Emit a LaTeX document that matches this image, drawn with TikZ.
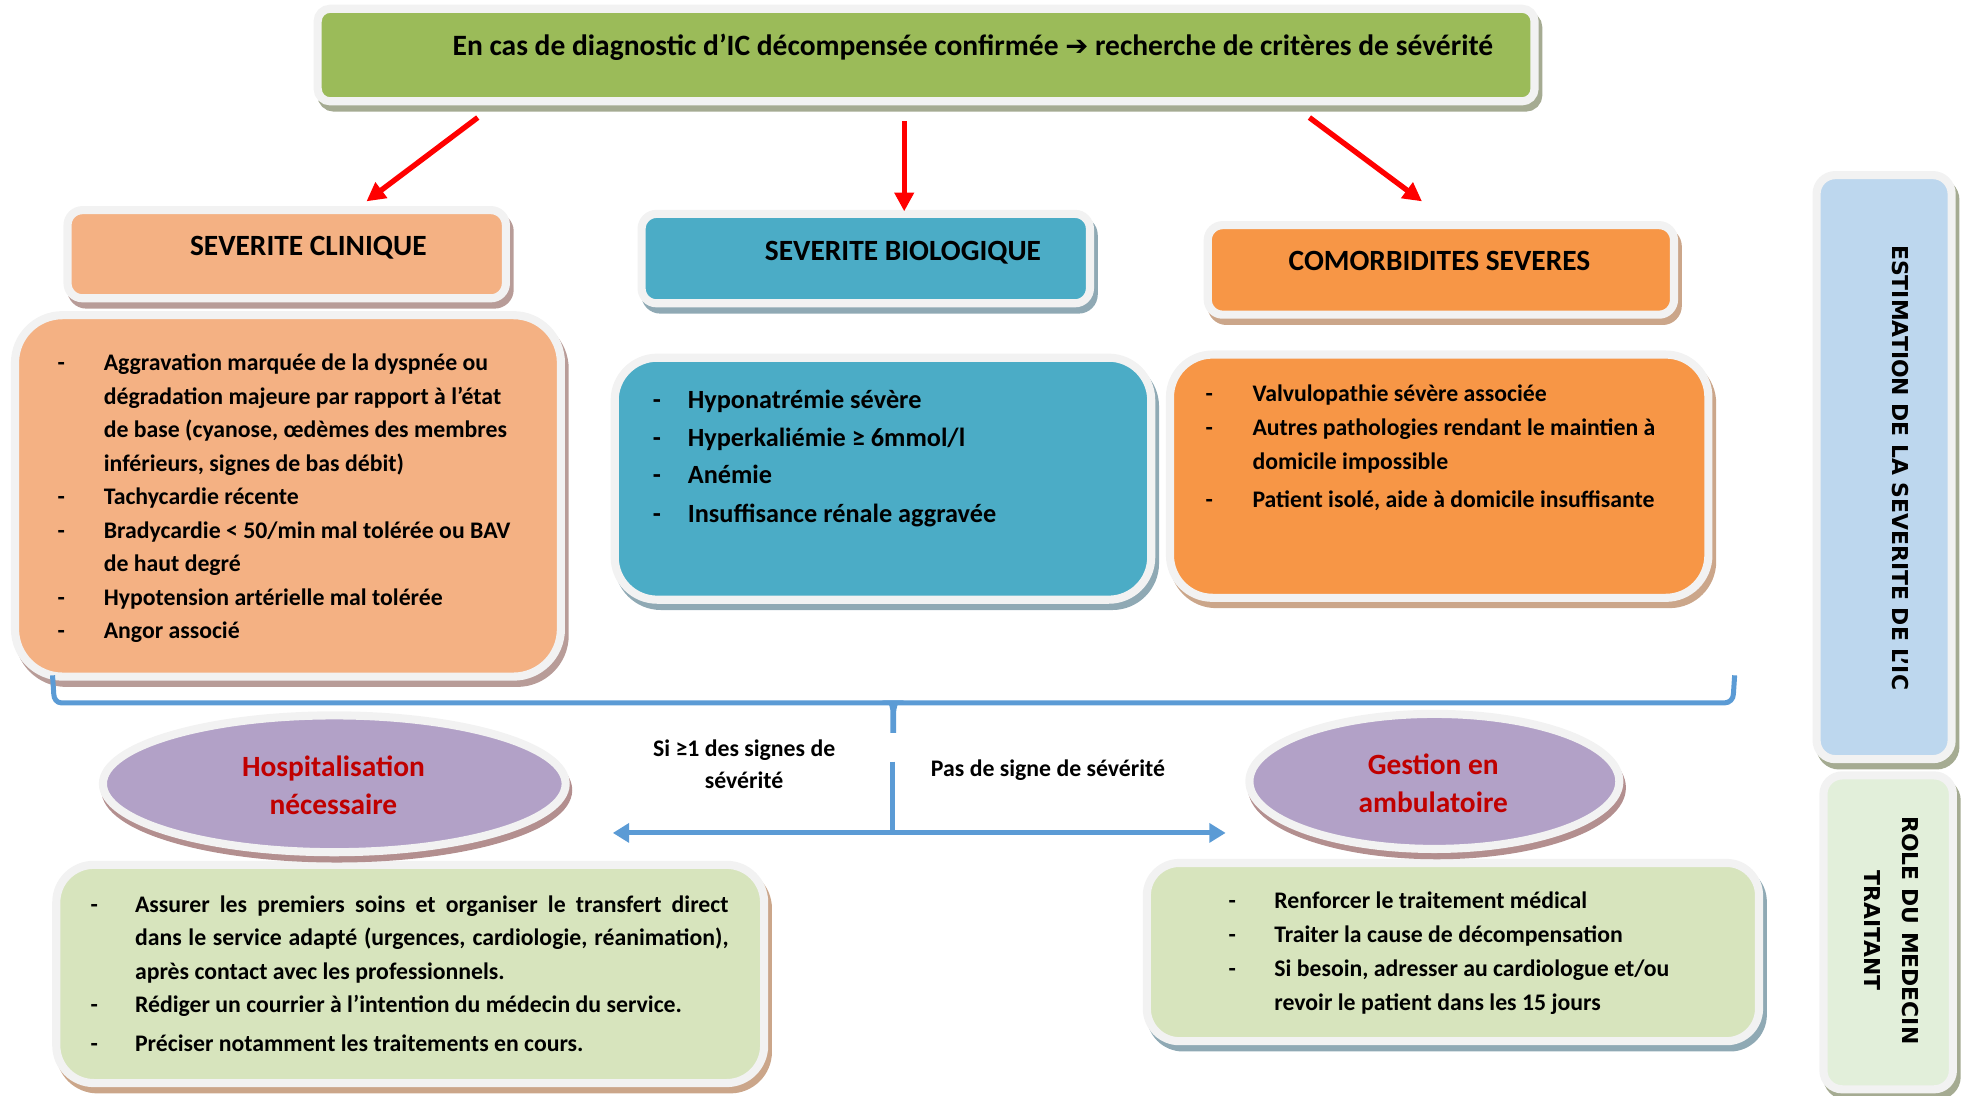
\documentclass[tikz,border=0pt]{standalone}
\usepackage{fontspec}
\setmainfont{Carlito}
\newfontfamily\sidefont{DejaVu Sans}
\usetikzlibrary{shapes.geometric,fit,arrows.meta}
\definecolor{framec}{HTML}{F2F2F2}
\definecolor{titlegreen}{HTML}{9BBB59}
\definecolor{shOlive}{HTML}{A5AB92}
\definecolor{cSalmon}{HTML}{F4B183}
\definecolor{shRose}{HTML}{B89C98}
\definecolor{cTeal}{HTML}{4BACC6}
\definecolor{shBlue}{HTML}{8FA9B4}
\definecolor{cOrange}{HTML}{F79646}
\definecolor{shTan}{HTML}{CBA68A}
\definecolor{cPurple}{HTML}{B2A1C7}
\definecolor{shPurple}{HTML}{B38F8F}
\definecolor{cLgreen}{HTML}{D7E4BD}
\definecolor{sideBlue}{HTML}{BDD7EE}
\definecolor{sideGreen}{HTML}{E2EFDA}
\definecolor{conn}{HTML}{5B9BD5}
\definecolor{redText}{HTML}{C00000}
\definecolor{redArrow}{HTML}{FF0000}
% panel: name, x1, y1, x2, y2, radius, fill, shadow
\newcommand\mypanel[8]{%
  \draw[line width=6.5pt, rounded corners=#6, draw=#8, fill=#8, shift={(3,5)}] (#2,#3) rectangle (#4,#5);
  \node[fit={(#2,#3) (#4,#5)}, inner sep=0pt, outer sep=0pt, rectangle, rounded corners=#6,
        draw=framec, line width=6.5pt, fill=#7] (#1) {};}
% oval: name, cx, cy, rx, ry
\newcommand\myoval[5]{%
  \draw[line width=6.5pt, draw=shPurple, fill=shPurple, shift={(2,5)}] (#2,#3) ellipse [x radius=#4pt, y radius=#5pt];
  \node[ellipse, inner sep=0pt, outer sep=0pt, minimum width={2*#4pt}, minimum height={2*#5pt},
        draw=framec, line width=6.5pt, fill=cPurple] (#1) at (#2,#3) {};}
\newcommand\itm[2]{\makebox[#1][l]{-}#2}
\begin{document}
\begin{tikzpicture}[x=1pt,y=-1pt,
  txt/.style={inner sep=0pt, outer sep=0pt},
  head/.style={txt, anchor=base, font=\bfseries\fontsize{23.5}{28}\selectfont},
  body/.style={txt, anchor=base west, font=\bfseries\fontsize{19}{26.8}\selectfont},
  redtxt/.style={txt, anchor=base, text=redText, font=\bfseries\fontsize{23.5}{30.4}\selectfont},
  lbl/.style={txt, anchor=base, font=\bfseries\fontsize{19}{25.7}\selectfont},
  side/.style={txt, rotate=-90, align=center, font=\sidefont\bfseries\fontsize{17.5}{31}\selectfont},
  redarrow/.style={draw=redArrow, line width=4.3pt, -{Triangle[length=15pt,width=15pt]}},
  blueline/.style={draw=conn, line width=4pt},
  bluearrow/.style={draw=conn, line width=4pt, -{Triangle[length=13pt,width=15pt]}},
]
\useasboundingbox (0,0) rectangle (1568,876);

% ---------- panels ----------
\mypanel{top}{254}{7}{1227}{81}{10pt}{titlegreen}{shOlive}
\mypanel{clinH}{54}{168}{404.5}{238.5}{12pt}{cSalmon}{shRose}
\mypanel{bioH}{513}{171}{871.5}{242.5}{12pt}{cTeal}{shBlue}
\mypanel{comH}{965.7}{180}{1338.5}{251.6}{12pt}{cOrange}{shTan}
\mypanel{clinB}{12}{252}{448.5}{541}{38pt}{cSalmon}{shRose}
\mypanel{bioB}{491.5}{286}{920.5}{479.5}{34pt}{cTeal}{shBlue}
\mypanel{comB}{935.5}{283.5}{1366}{478}{34pt}{cOrange}{shTan}
\mypanel{hospB}{45}{691.5}{611}{866}{30pt}{cLgreen}{shTan}
\mypanel{ambuB}{917}{690}{1406.5}{832.5}{26pt}{cLgreen}{shBlue}
\mypanel{estB}{1452.5}{140}{1560.5}{607}{15pt}{sideBlue}{shOlive}
\mypanel{roleB}{1458}{620}{1561.5}{871}{15pt}{sideGreen}{shOlive}
\myoval{hospE}{267.3}{626.7}{185}{54.7}
\myoval{ambuE}{1146.9}{624.8}{147.9}{54}

% ---------- red arrows ----------
\coordinate (r1s) at (382,94);   \coordinate (r1e) at (293,161);
\coordinate (r2s) at (723,97);   \coordinate (r2e) at (723,169);
\coordinate (r3s) at (1047,94);  \coordinate (r3e) at (1137,161);
\draw[redarrow] (r1s) -- (r1e);
\draw[redarrow] (r2s) -- (r2e);
\draw[redarrow] (r3s) -- (r3e);

% ---------- blue bracket and split ----------
\coordinate (bl) at (42,540);
\coordinate (br) at (1387,540);
\draw[blueline, line cap=butt] (bl) -- (43,555) to[out=-90,in=180] (49,562) -- (1379,562) to[out=0,in=-90] (1386,555) -- (br);
\fill[conn] (705,560) .. controls (712,561) and (712,566) .. (712,572) -- (712,586) -- (716.5,586) -- (716.5,572)
  .. controls (716.5,566) and (717,561) .. (723,560) -- cycle;
\coordinate (st) at (714,609);
\coordinate (sm) at (714,666);
\coordinate (sl) at (490,666);
\coordinate (sr) at (980,666);
\draw[blueline] (st) -- (sm);
\draw[bluearrow] (716,666) -- (sl);
\draw[bluearrow] (712,666) -- (sr);

% ---------- texts ----------
\node[txt, anchor=base, font=\bfseries\fontsize{23.6}{28}\selectfont] (topT) at (778,44)
  {En cas de diagnostic d’IC décompensée confirmée {\sidefont\bfseries\fontsize{22}{26}\selectfont ➔} recherche de critères de sévérité};
\node[head] (clinHT) at (246.5,204) {SEVERITE CLINIQUE};
\node[head] (bioHT) at (722,208) {SEVERITE BIOLOGIQUE};
\node[head] (comHT) at (1151,216.5) {COMORBIDITES SEVERES};

\node[body] (clinT) at (46,296.5) {\parbox[t]{430pt}{%
\itm{37pt}{Aggravation marquée de la dyspnée ou}\\
\hspace*{37pt}dégradation majeure par rapport à l’état\\
\hspace*{37pt}de base (cyanose, œdèmes des membres\\
\hspace*{37pt}inférieurs, signes de bas débit)\\
\itm{37pt}{Tachycardie récente}\\
\itm{37pt}{Bradycardie < 50/min mal tolérée ou BAV}\\
\hspace*{37pt}de haut degré\\
\itm{37pt}{Hypotension artérielle mal tolérée}\\
\itm{37pt}{Angor associé}}};

\node[body, font=\bfseries\fontsize{21}{30}\selectfont] (bioT) at (522,326.7) {\parbox[t]{400pt}{%
\itm{28pt}{Hyponatrémie sévère}\\
\itm{28pt}{Hyperkaliémie ≥ 6mmol/l}\\
\itm{28pt}{Anémie}\\[1.3pt]
\itm{28pt}{Insuffisance rénale aggravée}}};

\node[body, font=\bfseries\fontsize{19}{27}\selectfont] (comT) at (964,321.3) {\parbox[t]{420pt}{%
\itm{37.5pt}{Valvulopathie sévère associée}\\
\itm{37.5pt}{Autres pathologies rendant le maintien à}\\
\hspace*{37.5pt}domicile impossible\\[3.4pt]
\itm{37.5pt}{Patient isolé, aide à domicile insuffisante}}};

\node[redtxt] (hospT) at (266.6,620.8) {\parbox[t]{300pt}{\centering Hospitalisation\\nécessaire}};
\node[redtxt] (ambuT) at (1146,619.2) {\parbox[t]{260pt}{\centering Gestion en\\ambulatoire}};

\node[lbl] (siT) at (595,605) {\parbox[t]{200pt}{\centering Si ≥1 des signes de\\sévérité}};
\node[lbl] (pasT) at (838,621) {Pas de signe de sévérité};

\node[body] (hospL) at (72.4,729.3) {\parbox[t]{530pt}{%
\itm{35.6pt}{\makebox[474.6pt][s]{Assurer les premiers soins et organiser le transfert direct}}\\
\hspace*{35.6pt}\makebox[474.6pt][s]{dans le service adapté (urgences, cardiologie, réanimation),}\\
\hspace*{35.6pt}après contact avec les professionnels.\\
\itm{35.6pt}{Rédiger un courrier à l’intention du médecin du service.}\\[3.9pt]
\itm{35.6pt}{Préciser notamment les traitements en cours.}}};

\node[body, font=\bfseries\fontsize{19}{27}\selectfont] (ambuL) at (982.4,726.7) {\parbox[t]{420pt}{%
\itm{36.6pt}{Renforcer le traitement médical}\\
\itm{36.6pt}{Traiter la cause de décompensation}\\
\itm{36.6pt}{Si besoin, adresser au cardiologue et/ou}\\
\hspace*{36.6pt}revoir le patient dans les 15 jours}};

\node[side] (estT) at (1519.5,374) {ESTIMATION DE LA SEVERITE DE L’IC};
\node[side] (roleT) at (1512.5,744) {ROLE DU MEDECIN\\TRAITANT};
\end{tikzpicture}
\end{document}
